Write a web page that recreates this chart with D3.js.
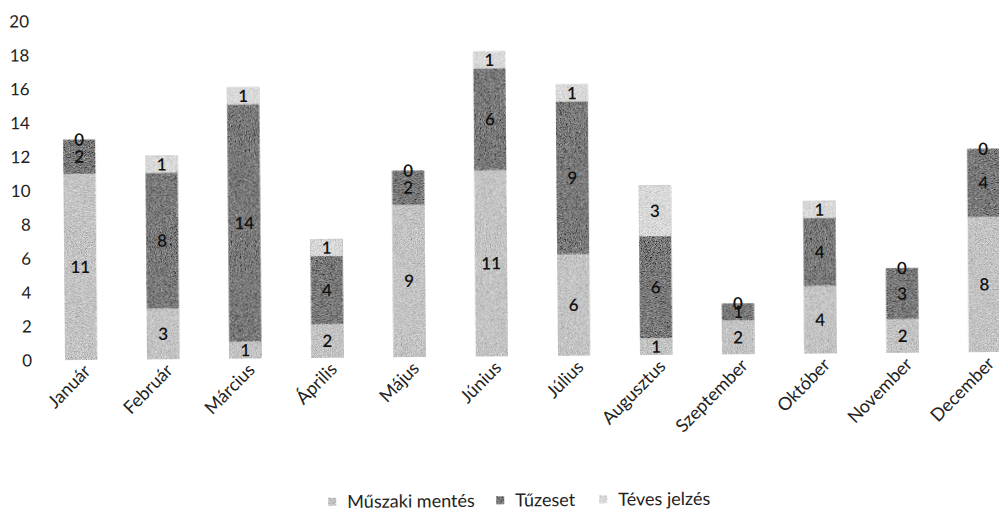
<!DOCTYPE html>
<html><head><meta charset="utf-8">
<script src="https://cdn.jsdelivr.net/npm/d3@7"></script>
<style>
html,body{margin:0;padding:0;background:#fff;}
svg{display:block;}
text{font-family:"Lato","Noto Sans",sans-serif;}
</style></head>
<body>
<svg id="chart" width="999" height="513"></svg>
<script>
const months = ["Január","Február","Március","Április","Május","Június","Július","Augusztus","Szeptember","Október","November","December"];
const seriesNames = ["Műszaki mentés","Tűzeset","Téves jelzés"];
const muszaki = [11,3,1,2,9,11,6,1,2,4,2,8];
const tuzeset = [2,8,14,4,2,6,9,6,1,4,3,4];
const teves   = [0,1,1,1,0,1,1,3,0,1,0,0];
const yTicks = [0,2,4,6,8,10,12,14,16,18,20];
const colors = ["#c4c4c4","#7a7a7a","#d9d9d9"];

const rows = months.map((m,i)=>({month:m,"Műszaki mentés":muszaki[i],"Tűzeset":tuzeset[i],"Téves jelzés":teves[i]}));
const stack = d3.stack().keys(seriesNames)(rows);

const svg = d3.select("#chart");
const defs = svg.append("defs");
const f = defs.append("filter").attr("id","grain").attr("x",0).attr("y",0).attr("width",1).attr("height",1);
f.append("feTurbulence").attr("type","fractalNoise").attr("baseFrequency",1.2).attr("numOctaves",1).attr("seed",7).attr("result","n");
f.append("feColorMatrix").attr("in","n").attr("type","matrix")
 .attr("values","0.33 0.33 0.33 0 0  0.33 0.33 0.33 0 0  0.33 0.33 0.33 0 0  0 0 0 0 1").attr("result","g");
f.append("feComposite").attr("in","SourceGraphic").attr("in2","g").attr("operator","arithmetic")
 .attr("k1",0).attr("k2",1).attr("k3",1.6).attr("k4",-0.8).attr("result","c");
f.append("feComposite").attr("in","c").attr("in2","SourceGraphic").attr("operator","in");

const root = svg.append("g").attr("transform","rotate(-0.5,81,360)");

const x = d3.scaleBand().domain(months).range([40,1026]).paddingInner(0.61).paddingOuter(0.305);
const y = d3.scaleLinear().domain([0,20]).range([360,21]);

// y axis labels
const yAxis = d3.axisLeft(y).tickValues(yTicks).tickSize(0).tickPadding(0);
const gy = root.append("g").attr("transform","translate(32,0)").call(yAxis);
gy.select(".domain").remove();
gy.selectAll("text").attr("font-size",17).attr("fill","#222").style("font-family","Lato, 'Noto Sans', sans-serif");

// bars
const layers = root.selectAll("g.layer").data(stack).join("g").attr("class","layer")
  .attr("fill",(d,i)=>colors[i]).attr("filter","url(#grain)");
layers.selectAll("rect").data(d=>d).join("rect")
  .attr("x",d=>x(d.data.month)).attr("width",x.bandwidth())
  .attr("y",d=>y(d[1])).attr("height",d=>y(d[0])-y(d[1]));

// value labels
const lbl = root.append("g");
stack.forEach(layer=>{
  lbl.selectAll(null).data(layer).join("text")
    .attr("x",d=>x(d.data.month)+x.bandwidth()/2)
    .attr("y",d=>(y(d[0])+y(d[1]))/2)
    .attr("dy","0.36em").attr("text-anchor","middle")
    .attr("font-size",17).attr("font-weight",600).attr("fill","#111")
    .text(d=>d[1]-d[0]);
});

// x axis labels
const xAxis = d3.axisBottom(x).tickSize(0).tickPadding(0);
const gx = root.append("g").attr("transform","translate(0,366)").call(xAxis);
gx.select(".domain").remove();
gx.selectAll("text").attr("font-size",18).attr("fill","#222")
  .style("font-family","Lato, 'Noto Sans', sans-serif")
  .attr("text-anchor","end").attr("dy","0.35em")
  .attr("transform","translate(6,2) rotate(-45)");

// legend
const legendX = [327,495,598];
const lg = root.append("g");
seriesNames.forEach((s,i)=>{
  const g = lg.append("g").attr("transform",`translate(${legendX[i]},504)`);
  g.append("rect").attr("x",0).attr("y",-4).attr("width",8).attr("height",8).attr("fill",colors[i]).attr("filter","url(#grain)");
  g.append("text").attr("x",19).attr("y",0).attr("dy","0.35em").attr("font-size",18).attr("fill","#222").text(s);
});
</script>
</body></html>
